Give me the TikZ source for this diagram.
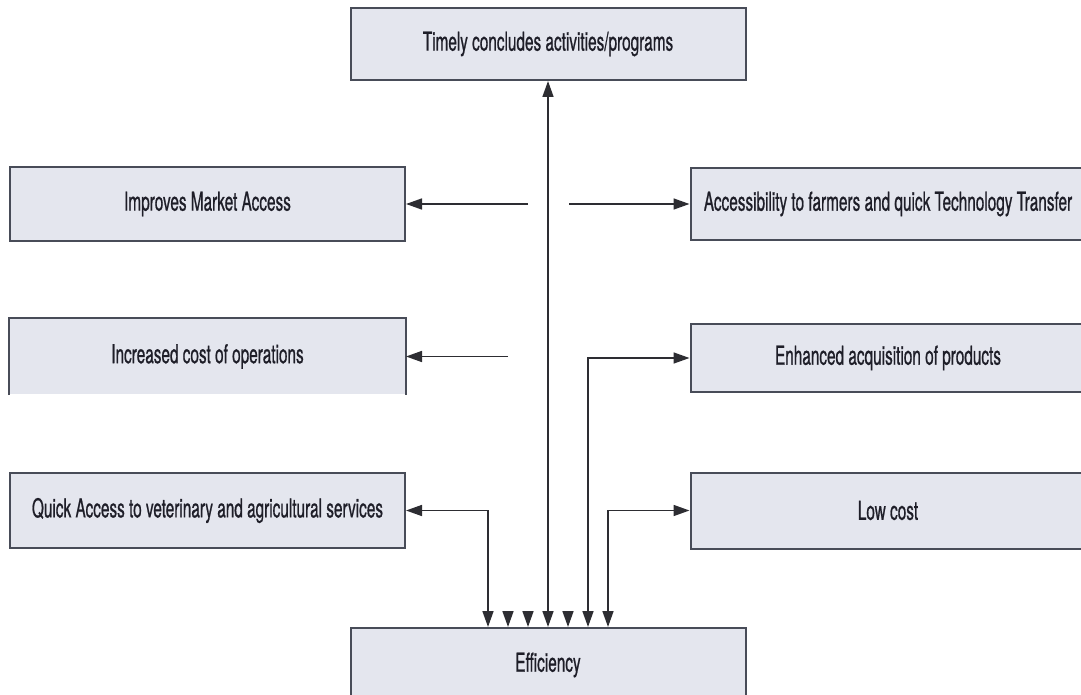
\documentclass[tikz,border=0pt]{standalone}
\usepackage{fontspec}
\setmainfont{TeX Gyre Heros}[FakeStretch=0.59, FakeBold=0.7]
\definecolor{boxFill}{RGB}{228, 230, 238}
\definecolor{boxLine}{RGB}{72, 76, 88}
\definecolor{linkLine}{RGB}{45, 45, 50}
\definecolor{labelText}{RGB}{30, 30, 40}
\usetikzlibrary{arrows.meta, positioning, calc}

\begin{document}
\begin{tikzpicture}[x=1pt, y=-1pt,
    >={Triangle[length=16pt, width=11pt]},
    box/.style={fill=boxFill, draw=boxLine, line width=2pt, inner sep=0pt,
        minimum width=395pt, font=\fontsize{26}{28}\selectfont, text=labelText},
    plainbox/.style={box, draw=none},
    edge/.style={draw=boxLine, line width=2pt},
    link/.style={draw=linkLine, line width=1.6pt}]
        \useasboundingbox (0,0) rectangle (1081,695);

        % Top and bottom boxes
        \node[box, minimum height=72pt] (timely) at (548,44) {Timely concludes activities/programs};
        \node[box, minimum height=74pt] (eff) at (548,665) {Efficiency};

        % Left column
        \node[box, minimum height=74pt] (market) at (207.5,204) {Improves Market Access};
        \node[plainbox, minimum height=75pt] (opcost) at (207.5,356.5) {Increased cost of operations};
        \draw[edge] (opcost.south west) -- (opcost.north west) -- (opcost.north east) -- (opcost.south east);
        \node[box, minimum height=75pt] (vet) at (207.5,510.5) {Quick Access to veterinary and agricultural services};

        % Right column
        \node[box, minimum height=72pt] (access) at (888,204) {Accessibility to farmers and quick Technology Transfer};
        \node[box, minimum height=68pt] (acq) at (888,358) {Enhanced acquisition of products};
        \node[box, minimum height=76pt] (low) at (888,510.5) {Low cost};

        % Free ends of the short arrows
        \coordinate (marketEnd) at (528,204);
        \coordinate (accessEnd) at (569,204);
        \coordinate (opcostEnd) at (508,356.5);

        \draw[link, ->] (marketEnd) -- (market.east);
        \draw[link, ->] (accessEnd) -- (accessEnd -| access.west);
        \draw[link, ->] (opcostEnd) -- (opcost.east);

        % Links down to Efficiency
        \draw[link, <->] (eff.north) -- (timely.south);
        \draw[link, <->] ($(eff.north)+(-60,0)$) |- (vet.east);
        \draw[link, <->] ($(eff.north)+(40,0)$) |- (acq.west);
        \draw[link, <->] ($(eff.north)+(60,0)$) |- (low.west);

        % Arrow heads without lines
        \foreach \dx in {-40,-20,20}
            \draw[link, ->] ($(eff.north)+(\dx,-16)$) -- ($(eff.north)+(\dx,0)$);
    \end{tikzpicture}
\end{document}
